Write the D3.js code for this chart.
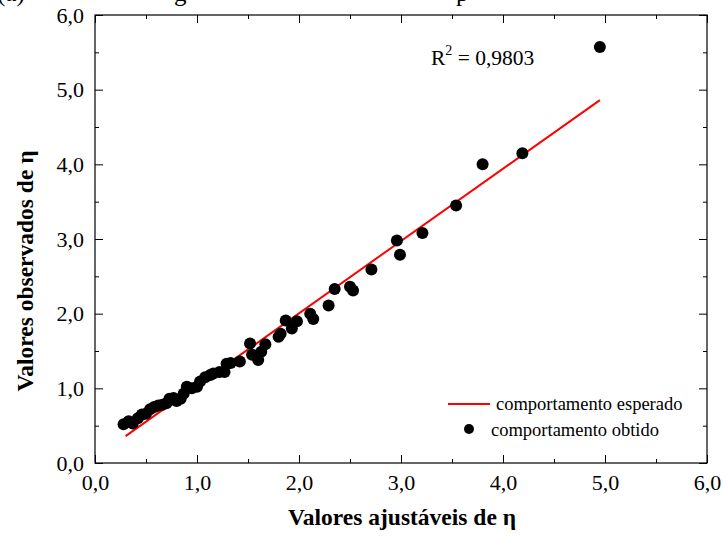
<!DOCTYPE html>
<html>
<head>
<meta charset="utf-8">
<script src="https://cdn.jsdelivr.net/npm/d3@7"></script>
<style>
  html, body { margin: 0; padding: 0; background: #fff; }
  svg { display: block; }
  text { font-family: "Liberation Serif", "Times New Roman", serif; fill: #000; }
</style>
</head>
<body>
<svg id="chart" width="724" height="541"></svg>
<script>
// ---- data ----
const xAdjusted = [0.28,0.33,0.37,0.42,0.46,0.50,0.54,0.58,0.62,0.66,0.70,0.73,0.77,0.80,0.84,0.87,0.90,0.95,1.00,1.03,1.08,1.13,1.16,1.22,1.27,1.29,1.33,1.42,1.52,1.54,1.60,1.63,1.67,1.80,1.82,1.87,1.93,1.98,2.11,2.14,2.29,2.35,2.50,2.53,2.71,2.96,2.99,3.21,3.54,3.80,4.19,4.95];
const yObserved = [0.52,0.56,0.53,0.60,0.65,0.66,0.72,0.75,0.77,0.78,0.80,0.86,0.87,0.83,0.86,0.93,1.02,1.00,1.02,1.09,1.15,1.18,1.20,1.22,1.22,1.33,1.34,1.36,1.60,1.45,1.38,1.49,1.59,1.69,1.73,1.91,1.80,1.90,2.00,1.93,2.11,2.33,2.36,2.31,2.59,2.98,2.79,3.08,3.45,4.00,4.15,5.57];
const fitX = [0.30, 4.95];
const fitY = [0.36, 4.86];
const majorTicks = [0,1,2,3,4,5,6];
const minorTicks = [0.5,1.5,2.5,3.5,4.5,5.5];
const tickLabels = ["0,0","1,0","2,0","3,0","4,0","5,0","6,0"];
const r2Text = "0,9803";
const xTitle = "Valores ajustáveis de η";
const yTitle = "Valores observados de η";
const legendLine = "comportamento esperado";
const legendDots = "comportamento obtido";

// ---- layout ----
const svg = d3.select("#chart");
const L = 95, R = 707, T = 15, B = 463;
const x = d3.scaleLinear().domain([0,6]).range([L,R]);
const y = d3.scaleLinear().domain([0,6]).range([B,T]);

// title fragment cut off at the top
svg.append("text").attr("x", -3).attr("y", 1).attr("font-size", 25).text("(a)");
svg.append("text").attr("x", 174).attr("y", 1).attr("font-size", 25).text("g");
svg.append("text").attr("x", 456).attr("y", 1).attr("font-size", 25).text("p");

const fmt = d => tickLabels[majorTicks.indexOf(d)];

function drawAxis(gen, transform, ticks, size, labels) {
  const g = svg.append("g").attr("transform", transform)
    .call(gen.tickValues(ticks).tickSizeInner(size).tickSizeOuter(0)
      .tickFormat(labels ? fmt : () => "").tickPadding(labels ? 11 : 0));
  g.select(".domain").remove();
  g.selectAll(".tick line").attr("stroke", "#000").attr("stroke-width", 1);
  g.selectAll(".tick text").attr("font-size", 22).attr("font-family", "Liberation Serif, serif").attr("fill", "#000");
  return g;
}
// bottom
drawAxis(d3.axisBottom(x), `translate(0,${B})`, majorTicks, -8, true);
drawAxis(d3.axisBottom(x), `translate(0,${B})`, minorTicks, -4, false);
// top
drawAxis(d3.axisTop(x), `translate(0,${T})`, majorTicks, -8, false);
drawAxis(d3.axisTop(x), `translate(0,${T})`, minorTicks, -4, false);
// left
drawAxis(d3.axisLeft(y), `translate(${L},0)`, majorTicks, -8, true);
drawAxis(d3.axisLeft(y), `translate(${L},0)`, minorTicks, -4, false);
// right
drawAxis(d3.axisRight(y), `translate(${R},0)`, majorTicks, -8, false);
drawAxis(d3.axisRight(y), `translate(${R},0)`, minorTicks, -4, false);

// frame
svg.append("rect").attr("x", L).attr("y", T).attr("width", R-L).attr("height", B-T)
  .attr("fill", "none").attr("stroke", "#000").attr("stroke-width", 1.2);

// fit line
const line = d3.line().x(d => x(d[0])).y(d => y(d[1]));
svg.append("path").datum(d3.zip(fitX, fitY)).attr("d", line)
  .attr("fill", "none").attr("stroke", "#ff0000").attr("stroke-width", 2);

// points
svg.append("g").selectAll("circle").data(d3.zip(xAdjusted, yObserved)).join("circle")
  .attr("cx", d => x(d[0])).attr("cy", d => y(d[1])).attr("r", 6).attr("fill", "#000");

// R^2 annotation
const rt = svg.append("text").attr("x", 431).attr("y", 65).attr("font-size", 21.5);
rt.append("tspan").text("R");
rt.append("tspan").attr("dy", -10).attr("font-size", 14).text("2");
rt.append("tspan").attr("dy", 10).text(" = " + r2Text);

// legend
svg.append("line").attr("x1", 448).attr("x2", 490).attr("y1", 404).attr("y2", 404)
  .attr("stroke", "#ff0000").attr("stroke-width", 2);
svg.append("text").attr("x", 496).attr("y", 410).attr("font-size", 18.5).text(legendLine);
svg.append("circle").attr("cx", 469).attr("cy", 429).attr("r", 5).attr("fill", "#000");
svg.append("text").attr("x", 491).attr("y", 436).attr("font-size", 18.5).text(legendDots);

// axis titles
svg.append("text").attr("x", 402).attr("y", 525).attr("text-anchor", "middle")
  .attr("font-size", 23.5).attr("font-weight", "bold").text(xTitle);
svg.append("text").attr("transform", `translate(33,271) rotate(-90)`)
  .attr("text-anchor", "middle").attr("font-size", 23.5).attr("font-weight", "bold").text(yTitle);
</script>
</body>
</html>
